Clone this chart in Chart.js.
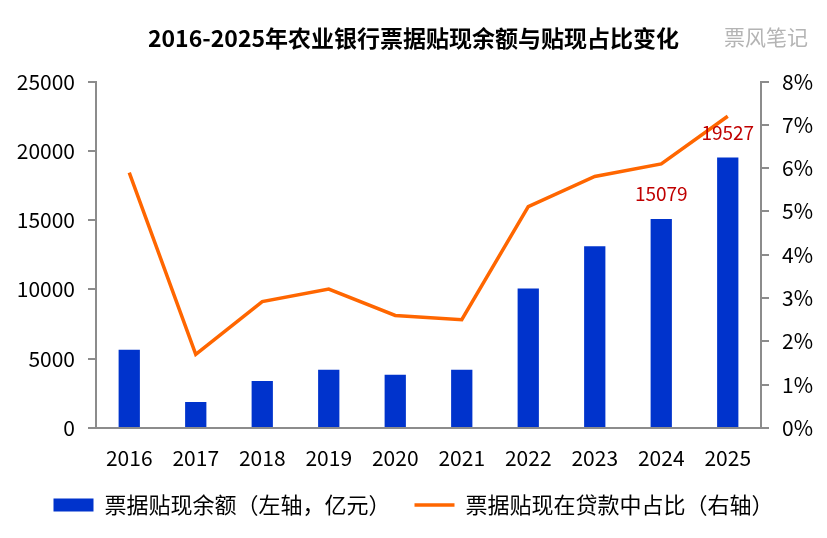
<!DOCTYPE html>
<html>
<head>
<meta charset="utf-8">
<script src="https://cdn.jsdelivr.net/npm/chart.js@4"></script>
<style>
  html, body { margin: 0; padding: 0; background: #fff; }
  #wrap { width: 827px; height: 538px; position: relative; }
</style>
</head>
<body>
<div id="wrap"><canvas id="billChart"></canvas></div>
<script>
// --- data ---
const years = ['2016', '2017', '2018', '2019', '2020', '2021', '2022', '2023', '2024', '2025'];
const discountBalance = [5650, 1880, 3400, 4200, 3840, 4200, 10070, 13120, 15079, 19527]; // 亿元
const discountShare = [5.9, 1.7, 2.92, 3.21, 2.6, 2.5, 5.11, 5.81, 6.1, 7.2];              // %
const leftTicks = [0, 5000, 10000, 15000, 20000, 25000];
const rightTicks = [0, 1, 2, 3, 4, 5, 6, 7, 8];
const labelledYears = ['2024', '2025'];

const FONT = "'Microsoft YaHei', 'Noto Sans CJK SC', sans-serif";
const AXIS_GREY = '#8c8c8c';

// value labels above the last two bars
const barValueLabels = {
    id: 'barValueLabels',
    afterDatasetsDraw(chart) {
        const meta = chart.getDatasetMeta(0);
        const ctx = chart.ctx;
        ctx.save();
        ctx.font = '19px ' + FONT;
        ctx.fillStyle = '#C00000';
        ctx.textAlign = 'center';
        ctx.textBaseline = 'middle';
        years.forEach((yr, i) => {
            if (!labelledYears.includes(yr)) return;
            const bar = meta.data[i];
            ctx.fillText(String(discountBalance[i]), bar.x, bar.y - 25);
        });
        ctx.restore();
    }
};

// grey signature at top right
const signature = {
    id: 'signature',
    afterDraw(chart) {
        const ctx = chart.ctx;
        ctx.save();
        ctx.font = '21px ' + FONT;
        ctx.fillStyle = '#b4b4b4';
        ctx.textAlign = 'center';
        ctx.textBaseline = 'middle';
        ctx.fillText('票风笔记', 766, 37);
        ctx.restore();
    }
};

const ctx = document.getElementById('billChart').getContext('2d');
new Chart(ctx, {
    type: 'bar',
    data: {
        labels: years,
        datasets: [
            {
                label: '票据贴现余额（左轴，亿元）',
                data: discountBalance,
                backgroundColor: '#0033CC',
                borderWidth: 0,
                barPercentage: 0.32,
                categoryPercentage: 1,
                pointStyle: 'rect',
                yAxisID: 'y',
                order: 2
            },
            {
                type: 'line',
                label: '票据贴现在贷款中占比（右轴）',
                data: discountShare,
                borderColor: '#FF6600',
                backgroundColor: '#FF6600',
                borderWidth: 3.5,
                pointRadius: 0,
                pointHoverRadius: 0,
                pointStyle: 'line',
                tension: 0,
                yAxisID: 'y1',
                order: 1
            }
        ]
    },
    options: {
        responsive: true, maintainAspectRatio: false,
        animation: false,
        layout: { padding: { top: 0, bottom: 12, left: 0, right: 0 } },
        plugins: {
            title: {
                display: true,
                text: '2016-2025年农业银行票据贴现余额与贴现占比变化',
                color: '#000',
                font: { family: FONT, size: 23, weight: 'bold' },
                padding: { top: 24, bottom: 30 }
            },
            legend: {
                position: 'bottom',
                labels: {
                    usePointStyle: true,
                    pointStyleWidth: 40,
                    boxHeight: 13,
                    padding: 24,
                    color: '#000',
                    font: { family: FONT, size: 22 },
                    sort: (a, b) => a.datasetIndex - b.datasetIndex
                }
            },
            tooltip: { enabled: false }
        },
        scales: {
            x: {
                afterFit: s => { s.height = 42; },
                grid: { display: false, drawTicks: false },
                border: { display: true, color: AXIS_GREY, width: 2 },
                ticks: { color: '#000', font: { family: FONT, size: 21 }, padding: 17, maxRotation: 0 }
            },
            y: {
                position: 'left',
                min: 0, max: 25000,
                afterBuildTicks: s => { s.ticks = leftTicks.map(v => ({ value: v })); },
                afterFit: s => { s.width = 96; },
                grid: { drawOnChartArea: false, drawTicks: true, tickLength: 8, color: AXIS_GREY, lineWidth: 2 },
                border: { display: true, color: AXIS_GREY, width: 2 },
                ticks: { color: '#000', font: { family: FONT, size: 21 }, padding: 13, callback: v => String(v) }
            },
            y1: {
                position: 'right',
                min: 0, max: 8,
                afterBuildTicks: s => { s.ticks = rightTicks.map(v => ({ value: v })); },
                afterFit: s => { s.width = 66; },
                grid: { drawOnChartArea: false, drawTicks: true, tickLength: 8, color: AXIS_GREY, lineWidth: 2 },
                border: { display: true, color: AXIS_GREY, width: 2 },
                ticks: { color: '#000', font: { family: FONT, size: 21 }, padding: 13, callback: v => v + '%' }
            }
        }
    },
    plugins: [barValueLabels, signature]
});
</script>
</body>
</html>
